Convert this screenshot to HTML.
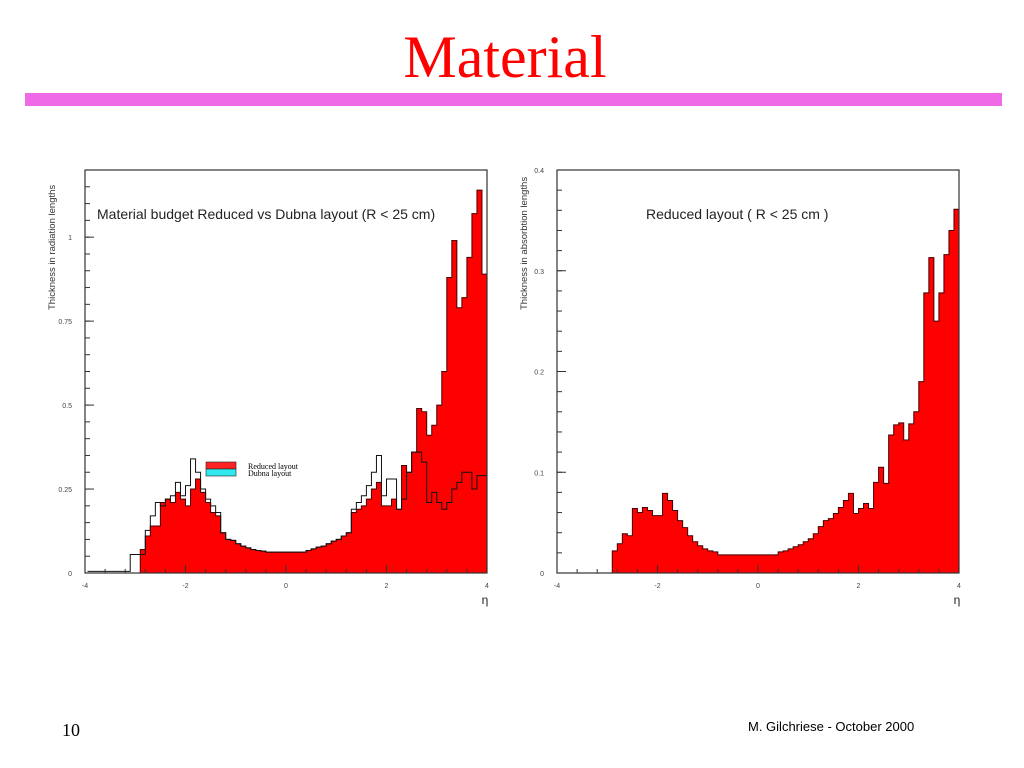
<!DOCTYPE html>
<html><head><meta charset="utf-8"><style>
body{margin:0;background:#fff;width:1024px;height:768px;overflow:hidden;position:relative;font-family:"Liberation Sans",sans-serif}
.t{position:absolute}
</style></head><body>
<div class="t" style="left:0;width:1010px;top:22px;text-align:center;font-family:'Liberation Serif',serif;font-size:60px;color:#ff0000;line-height:70px">Material</div>
<div class="t" style="left:25px;top:93px;width:977px;height:13px;background:#ee6ae6"></div>
<div class="t" style="left:62px;top:720px;font-family:'Liberation Serif',serif;font-size:18px">10</div>
<div class="t" style="left:748px;top:719px;font-size:13px">M. Gilchriese - October 2000</div>
<svg id="c" width="1024" height="768" style="position:absolute;left:0;top:0"></svg>
<script>
const etaEdges0 = -2.9; // first bin lower edge
const binW = 0.1;
const reducedRL = [0.07,0.11,0.14,0.14,0.21,0.22,0.21,0.24,0.22,0.20,0.25,0.28,0.24,0.21,0.18,0.17,0.12,0.10,0.097,0.087,0.08,0.075,0.07,0.067,0.065,0.062,0.062,0.062,0.062,0.062,0.062,0.062,0.062,0.067,0.072,0.077,0.08,0.087,0.095,0.10,0.11,0.12,0.18,0.19,0.20,0.22,0.25,0.27,0.20,0.20,0.22,0.19,0.32,0.30,0.36,0.49,0.48,0.41,0.44,0.50,0.60,0.88,0.99,0.79,0.82,0.94,1.07,1.14,0.89];
const dubnaLowEta = [-3.9,-3.1];
const dubnaLowVals = [0.005,0.055];
const dubnaRL = [0.055,0.127,0.17,0.21,0.20,0.22,0.23,0.27,0.23,0.26,0.34,0.30,0.25,0.22,0.20,0.18,0.12,0.10,0.097,0.087,0.08,0.075,0.07,0.067,0.065,0.062,0.062,0.062,0.062,0.062,0.062,0.062,0.062,0.067,0.072,0.077,0.08,0.087,0.095,0.10,0.11,0.12,0.19,0.21,0.23,0.26,0.30,0.35,0.23,0.28,0.28,0.19,0.22,0.30,0.36,0.36,0.33,0.21,0.24,0.21,0.19,0.21,0.25,0.27,0.30,0.30,0.25,0.29,0.29];
const reducedAL = [0.022,0.029,0.039,0.037,0.064,0.06,0.065,0.062,0.057,0.057,0.079,0.072,0.062,0.052,0.045,0.037,0.031,0.027,0.024,0.022,0.021,0.018,0.018,0.018,0.018,0.018,0.018,0.018,0.018,0.018,0.018,0.018,0.018,0.021,0.022,0.024,0.026,0.028,0.031,0.034,0.039,0.046,0.052,0.054,0.059,0.065,0.072,0.079,0.059,0.064,0.069,0.064,0.09,0.105,0.089,0.137,0.147,0.149,0.132,0.148,0.16,0.19,0.278,0.313,0.25,0.278,0.316,0.34,0.361];
const xTicks = [-4,-2,0,2,4];
const yTicksL = [0,0.25,0.5,0.75,1];
const yTickLabL = ["0","0.25","0.5","0.75","1"];
const yTicksR = [0,0.1,0.2,0.3,0.4];
const yTickLabR = ["0","0.1","0.2","0.3","0.4"];

const NS="http://www.w3.org/2000/svg";
const svg=document.getElementById('c');
function mk(tag,attrs,parent){const e=document.createElementNS(NS,tag);for(const k in attrs)e.setAttribute(k,attrs[k]);(parent||svg).appendChild(e);return e;}

function chart(x0,x1,y0,y1,ymax,yT,yL,yMinorStep,ytitle,label,name){
  const g=mk('g',{});
  
  
  const sx=v=>x0+(v+4)/8*(x1-x0);
  const sy=v=>y1-v/ymax*(y1-y0);
  return {g,sx,sy,draw(){
    const fr=mk('rect',{x:x0,y:y0,width:x1-x0,height:y1-y0,fill:'none',stroke:'#333','stroke-width':1.2},g);
    
    
    for(let v=0;v<=ymax+1e-9;v+=yMinorStep){mk('line',{x1:x0,x2:x0+5,y1:sy(v),y2:sy(v),stroke:'#333'},g);}
    yT.forEach((v,i)=>{mk('line',{x1:x0,x2:x0+9,y1:sy(v),y2:sy(v),stroke:'#333'},g);
      const t=mk('text',{x:x0-13,y:sy(v)+3,'font-size':7,'text-anchor':'end',fill:'#444'},g);t.textContent=yL[i];
      
      });
    for(let v=-4;v<=4.001;v+=0.4){mk('line',{x1:sx(v),x2:sx(v),y1:y1,y2:y1-4,stroke:'#333'},g);}
    xTicks.forEach(v=>{mk('line',{x1:sx(v),x2:sx(v),y1:y1,y2:y1-8,stroke:'#333'},g);
      const t=mk('text',{x:sx(v),y:y1+15,'font-size':7,'text-anchor':'middle',fill:'#444'},g);t.textContent=(v<0?'-':'')+Math.abs(v);
      
      });
    const xt=mk('text',{x:x1-2,y:y1+31,'font-size':12,'text-anchor':'middle',fill:'#222'},g);xt.textContent='η';
    
    
    const yt=mk('text',{transform:`translate(${x0-30},${y0+140}) rotate(-90)`,'font-size':9.5,fill:'#333'},g);yt.textContent=ytitle;
    
    
    const lb=mk('text',{x:label[1],y:y0+49,'font-size':14,fill:'#222'},g);lb.textContent=label[0];
    
    
  }};
}
function hist(c,vals,fill,stroke,name){
  let d=`M${c.sx(etaEdges0)},${c.sy(0)}`;
  vals.forEach((v,i)=>{const a=etaEdges0+i*binW;d+=` L${c.sx(a)},${c.sy(v)} L${c.sx(a+binW)},${c.sy(v)}`;});
  d+=` L${c.sx(etaEdges0+vals.length*binW)},${c.sy(0)} Z`;
  const p=mk('path',{d,fill,stroke,'stroke-width':1},c.g);
  
  
  return p;
}
// left
const L=chart(85,487,170,573,1.2,yTicksL,yTickLabL,0.05,'Thickness in radiation lengths',['Material budget Reduced vs Dubna layout (R < 25 cm)',97],'radiation-length-chart');
hist(L,reducedRL,'#ff0000','#400','reduced-histogram');
let d=`M${L.sx(-3.95)},${L.sy(dubnaLowVals[0])} L${L.sx(dubnaLowEta[1])},${L.sy(dubnaLowVals[0])} L${L.sx(dubnaLowEta[1])},${L.sy(dubnaLowVals[1])}`;
dubnaRL.forEach((v,i)=>{const a=etaEdges0+i*binW;d+=` L${L.sx(a)},${L.sy(v)} L${L.sx(a+binW)},${L.sy(v)}`;});
d+=` L${L.sx(etaEdges0+dubnaRL.length*binW)},${L.sy(0)}`;
const dp=mk('path',{d,fill:'none',stroke:'#111','stroke-width':1},L.g);


L.draw();
const lg=mk('g',{},L.g);


mk('rect',{x:206,y:462,width:30,height:7,fill:'#f22',stroke:'#222','stroke-width':0.6},lg);
mk('rect',{x:206,y:469,width:30,height:7,fill:'#2ee8ee',stroke:'#222','stroke-width':0.6},lg);
const l1=mk('text',{x:248,y:469,'font-size':8,'font-family':'Liberation Serif, serif'},lg);l1.textContent='Reduced layout';


const l2=mk('text',{x:248,y:476,'font-size':8,'font-family':'Liberation Serif, serif'},lg);l2.textContent='Dubna layout';


// right
const R=chart(557,959,170,573,0.4,yTicksR,yTickLabR,0.02,'Thickness in absorbtion lengths',['Reduced layout ( R < 25 cm )',646],'absorption-length-chart');
hist(R,reducedAL,'#ff0000','#400','reduced-absorption-histogram');
R.draw();
</script>
</body></html>
